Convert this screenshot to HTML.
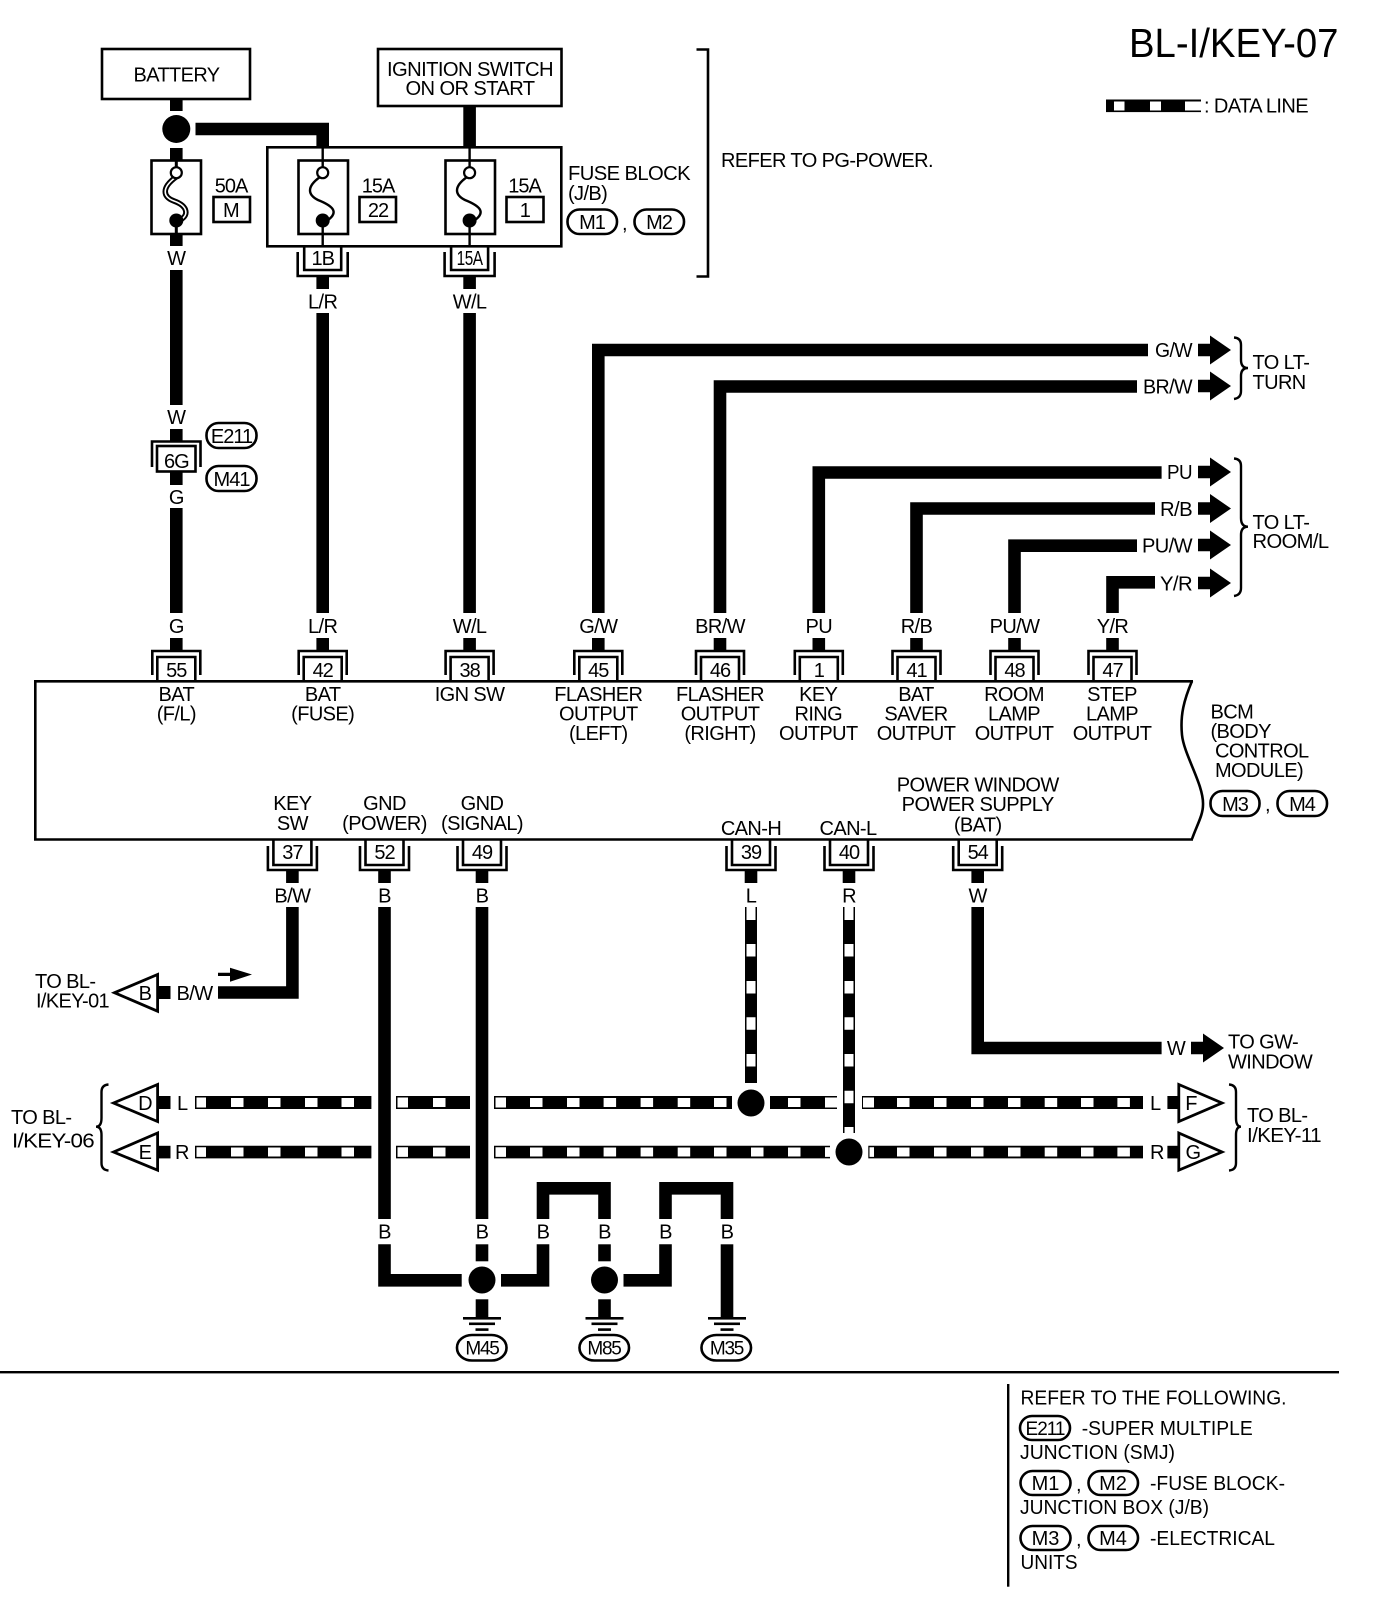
<!DOCTYPE html>
<html lang="en">
<head>
<meta charset="utf-8">
<title>BL-I/KEY-07</title>
<style>
html,body{margin:0;padding:0;background:#fff}
svg{display:block}
text{font-family:"Liberation Sans",Arial,sans-serif;font-size:20px;letter-spacing:-.6px;fill:#000}
.m{text-anchor:middle}
.n{letter-spacing:-1px}
.s{font-size:19px;letter-spacing:-1.2px}
.l{letter-spacing:0}
.t{fill:none;stroke:#000;stroke-width:2.6;stroke-linejoin:miter}
.w{fill:none;stroke:#000;stroke-width:12.6;stroke-linejoin:miter;stroke-miterlimit:10}
.f{fill:none;stroke:#000;stroke-width:2.4}
</style>
</head>
<body>
<svg xmlns="http://www.w3.org/2000/svg" width="1392" height="1606" viewBox="0 0 1392 1606">
<defs>
<g id="ct"><path class="t" d="M-24 675V651H24V675"/><path class="t" d="M-19 681V657H19V681"/><rect x="-6.3" y="638" width="12.6" height="12"/></g>
<g id="cb"><path class="t" d="M-24.5 846V870H24.5V846"/><path class="t" d="M-19 839V865H19V839"/><rect x="-6.3" y="870" width="12.6" height="13"/></g>
<g id="cf"><path class="t" d="M-25 252V276H25V252"/><path class="t" d="M-18.5 246V270H18.5V246"/><rect x="-6.3" y="276" width="12.6" height="13"/></g>
<g id="ar"><path d="M0-6.3H12V-14.5L33 0L12 14.5V6.3H0Z"/></g>
<g id="gr"><rect x="-19" y="1317" width="38" height="2.6"/><rect x="-13" y="1322.5" width="26" height="2.6"/><rect x="-6.5" y="1328.3" width="13" height="2.6"/></g>
</defs>

<!-- title / legend -->
<text x="1129" y="57" textLength="209.5" lengthAdjust="spacingAndGlyphs" style="font-size:41px;letter-spacing:0">BL-I/KEY-07</text>
<rect x="1106" y="99.5" width="95" height="12.6"/>
<path fill="#fff" d="M1114 101.5h10.5v9h-10.5zM1150 101.5h11v9h-11zM1185 101.5h16v9h-16z"/>
<text x="1204" y="112.5" textLength="104" lengthAdjust="spacingAndGlyphs">: DATA LINE</text>

<!-- top boxes -->
<rect class="t" x="102" y="49" width="148" height="50"/>
<text class="m" x="176.5" y="81.5" textLength="86" lengthAdjust="spacingAndGlyphs">BATTERY</text>
<rect class="t" x="378" y="49" width="183.5" height="57"/>
<text class="m" x="470" y="76" textLength="166" lengthAdjust="spacingAndGlyphs">IGNITION SWITCH</text>
<text class="m" x="470" y="95" textLength="129" lengthAdjust="spacingAndGlyphs">ON OR START</text>

<!-- battery feed -->
<rect x="170" y="99" width="12.6" height="12"/>
<circle cx="176.3" cy="129" r="14"/>
<rect x="170" y="148" width="12.6" height="12"/>
<polyline class="w" points="195.5,129 322.7,129 322.7,147"/>
<rect x="463.3" y="106" width="12.6" height="41"/>

<!-- fuse block -->
<rect class="t" x="267.3" y="147.3" width="294" height="99"/>
<rect class="t" x="151.5" y="160.5" width="49.5" height="73.5"/>
<rect class="t" x="298.5" y="160.5" width="49.5" height="73.5"/>
<rect class="t" x="445.5" y="160.5" width="49.5" height="73.5"/>
<!-- fuse 50A -->
<path d="M176 177C161 188 163 197 174 201C188 206 190 216 178 221" fill="none" stroke="#000" stroke-width="5.5"/>
<path d="M176 177C161 188 163 197 174 201C188 206 190 216 178 221" fill="none" stroke="#fff" stroke-width="1.6"/>
<circle cx="176.3" cy="172.7" r="5.5" fill="#fff" stroke="#000" stroke-width="2.2"/>
<circle cx="176.3" cy="220.5" r="7"/>
<rect x="174.8" y="160" width="3" height="7"/>
<rect x="174.8" y="226" width="3" height="9"/>
<rect x="170" y="234" width="12.6" height="12"/>
<!-- fuse 22 -->
<path class="f" d="M320 177C306 187 308 195 318 200C333 206 339 212 328 220"/>
<circle cx="322.7" cy="172.7" r="5.5" fill="#fff" stroke="#000" stroke-width="2.2"/>
<circle cx="322.7" cy="220.5" r="7"/>
<path class="f" d="M322.7 147V167M322.7 226V246"/>
<!-- fuse 1 -->
<path class="f" d="M467 177C453 187 455 195 465 200C480 206 486 212 475 220"/>
<circle cx="469.6" cy="172.7" r="5.5" fill="#fff" stroke="#000" stroke-width="2.2"/>
<circle cx="469.6" cy="220.5" r="7"/>
<path class="f" d="M469.6 147V167M469.6 226V246"/>

<text class="m n" x="231" y="192.5">50A</text>
<rect class="t" x="213.5" y="197" width="36.5" height="25"/>
<text class="m" x="231" y="217">M</text>
<text class="m n" x="378" y="192.5">15A</text>
<rect class="t" x="359.5" y="197" width="36.5" height="25"/>
<text class="m n" x="378" y="217">22</text>
<text class="m n" x="524.5" y="192.5">15A</text>
<rect class="t" x="506.5" y="197" width="37" height="25"/>
<text class="m" x="525" y="217">1</text>

<text x="568" y="180" textLength="122" lengthAdjust="spacingAndGlyphs">FUSE BLOCK</text>
<text x="568" y="200">(J/B)</text>
<rect class="t" x="567.5" y="209.5" width="49.5" height="24.5" rx="12" ry="12"/>
<text class="m n" x="592" y="229">M1</text>
<text x="622" y="230">,</text>
<rect class="t" x="634.5" y="209.5" width="49.5" height="24.5" rx="12" ry="12"/>
<text class="m n" x="659" y="229">M2</text>

<path class="t" d="M696.5 49.5H708V276.5H696.5"/>
<text x="721" y="167" textLength="212" lengthAdjust="spacingAndGlyphs">REFER TO PG-POWER.</text>

<use href="#cf" x="322.7"/>
<use href="#cf" x="469.6"/>
<text class="m n" x="322.7" y="265">1B</text>
<text class="m" x="469.6" y="265" textLength="26" lengthAdjust="spacingAndGlyphs">15A</text>
<text class="m" x="176.3" y="265">W</text>
<text class="m" x="322.7" y="308.5">L/R</text>
<text class="m" x="469.6" y="308.5">W/L</text>

<!-- column wires -->
<rect x="170" y="270" width="12.6" height="135"/>
<text class="m" x="176.3" y="424">W</text>
<rect x="170" y="429" width="12.6" height="12"/>
<path class="t" d="M152 467V441.5H200.5V467"/>
<rect class="t" x="157" y="446" width="38.5" height="25.5"/>
<text class="m n" x="176.3" y="468">6G</text>
<rect class="t" x="206.5" y="423" width="50" height="25" rx="12" ry="12"/>
<text class="m n" x="231.5" y="443">E211</text>
<rect class="t" x="206.5" y="466" width="50" height="25" rx="12" ry="12"/>
<text class="m n" x="231.5" y="486">M41</text>
<rect x="170" y="472" width="12.6" height="13"/>
<text class="m" x="176.3" y="504">G</text>
<rect x="170" y="508" width="12.6" height="105"/>

<rect x="316.4" y="313" width="12.6" height="300"/>
<rect x="463.3" y="313" width="12.6" height="300"/>

<polyline class="w" points="598.3,613 598.3,350 1148,350"/>
<polyline class="w" points="720,613 720,386.5 1137,386.5"/>
<polyline class="w" points="818.8,613 818.8,472.5 1161.6,472.5"/>
<polyline class="w" points="916.5,613 916.5,508.5 1155,508.5"/>
<polyline class="w" points="1014.5,613 1014.5,545.7 1137,545.7"/>
<polyline class="w" points="1112.5,613 1112.5,582.3 1155,582.3"/>

<!-- right labels & arrows -->
<text x="1155" y="357" textLength="37" lengthAdjust="spacingAndGlyphs">G/W</text>
<text x="1143" y="393.5" textLength="49" lengthAdjust="spacingAndGlyphs">BR/W</text>
<text x="1167" y="479" textLength="25" lengthAdjust="spacingAndGlyphs">PU</text>
<text x="1160" y="516" textLength="32" lengthAdjust="spacingAndGlyphs">R/B</text>
<text x="1142" y="552.5" textLength="50" lengthAdjust="spacingAndGlyphs">PU/W</text>
<text x="1160" y="590.5" textLength="32" lengthAdjust="spacingAndGlyphs">Y/R</text>
<use href="#ar" x="1198" y="350"/>
<use href="#ar" x="1198" y="386"/>
<use href="#ar" x="1198" y="472"/>
<use href="#ar" x="1198" y="508.5"/>
<use href="#ar" x="1198" y="545"/>
<use href="#ar" x="1198" y="583"/>
<path class="f" d="M1234 337.5Q1241 338 1241 345V360Q1241 368 1248 368Q1241 368 1241 376V391Q1241 398 1234 399"/>
<text x="1252.5" y="369">TO LT-</text>
<text x="1252.5" y="389">TURN</text>
<path class="f" d="M1234 458.5Q1241 459 1241 466V518Q1241 526.7 1248 526.7Q1241 526.7 1241 535V588Q1241 595 1234 596"/>
<text x="1252.5" y="529">TO LT-</text>
<text x="1252.5" y="548" textLength="76" lengthAdjust="spacingAndGlyphs">ROOM/L</text>

<!-- labels above BCM -->
<text class="m" x="176.3" y="633">G</text>
<text class="m" x="322.7" y="633">L/R</text>
<text class="m" x="469.6" y="633">W/L</text>
<text class="m" x="598.3" y="633">G/W</text>
<text class="m" x="720" y="633">BR/W</text>
<text class="m" x="818.8" y="633">PU</text>
<text class="m" x="916.5" y="633">R/B</text>
<text class="m" x="1014.5" y="633">PU/W</text>
<text class="m" x="1112.5" y="633">Y/R</text>

<use href="#ct" x="176.3"/><use href="#ct" x="322.7"/><use href="#ct" x="469.6"/><use href="#ct" x="598.3"/><use href="#ct" x="720"/><use href="#ct" x="818.8"/><use href="#ct" x="916.5"/><use href="#ct" x="1014.5"/><use href="#ct" x="1112.5"/>
<text class="m n" x="176.3" y="677">55</text>
<text class="m n" x="322.7" y="677">42</text>
<text class="m n" x="469.6" y="677">38</text>
<text class="m n" x="598.3" y="677">45</text>
<text class="m n" x="720" y="677">46</text>
<text class="m n" x="818.8" y="677">1</text>
<text class="m n" x="916.5" y="677">41</text>
<text class="m n" x="1014.5" y="677">48</text>
<text class="m n" x="1112.5" y="677">47</text>

<!-- BCM outline -->
<path class="t" d="M1193 681.3H35.3V839.5H1193"/>
<path class="t" d="M1192 681C1184 700 1180 715 1182 735C1184 755 1204 785 1203 805C1203 815 1197 825 1192 839"/>

<text class="m" x="176.3" y="701">BAT</text><text class="m" x="176.3" y="720.5">(F/L)</text>
<text class="m" x="322.7" y="701">BAT</text><text class="m" x="322.7" y="720.5">(FUSE)</text>
<text class="m" x="469.6" y="701">IGN SW</text>
<text class="m" x="598.3" y="701">FLASHER</text><text class="m" x="598.3" y="720.5">OUTPUT</text><text class="m" x="598.3" y="740">(LEFT)</text>
<text class="m" x="720" y="701">FLASHER</text><text class="m" x="720" y="720.5">OUTPUT</text><text class="m" x="720" y="740">(RIGHT)</text>
<text class="m" x="818.3" y="701">KEY</text><text class="m" x="818.3" y="720.5">RING</text><text class="m" x="818.3" y="740">OUTPUT</text>
<text class="m" x="916" y="701">BAT</text><text class="m" x="916" y="720.5">SAVER</text><text class="m" x="916" y="740">OUTPUT</text>
<text class="m" x="1014" y="701">ROOM</text><text class="m" x="1014" y="720.5">LAMP</text><text class="m" x="1014" y="740">OUTPUT</text>
<text class="m" x="1112" y="701">STEP</text><text class="m" x="1112" y="720.5">LAMP</text><text class="m" x="1112" y="740">OUTPUT</text>

<text class="m" x="292.4" y="810">KEY</text><text class="m" x="292.4" y="830">SW</text>
<text class="m" x="384.5" y="810">GND</text><text class="m" x="384.5" y="830">(POWER)</text>
<text class="m" x="482" y="810">GND</text><text class="m" x="482" y="830">(SIGNAL)</text>
<text class="m" x="751" y="835">CAN-H</text>
<text class="m" x="848" y="835">CAN-L</text>
<text class="m" x="977.7" y="791.5" textLength="162" lengthAdjust="spacingAndGlyphs">POWER WINDOW</text>
<text class="m" x="977.7" y="811" textLength="152" lengthAdjust="spacingAndGlyphs">POWER SUPPLY</text>
<text class="m" x="977.7" y="831.5">(BAT)</text>

<text x="1210.5" y="718.5">BCM</text>
<text x="1210.5" y="738">(BODY</text>
<text x="1215" y="757.5">CONTROL</text>
<text x="1215" y="777">MODULE)</text>
<rect class="t" x="1210.5" y="791" width="49" height="25" rx="12" ry="12"/>
<text class="m n" x="1235" y="811">M3</text>
<text x="1265" y="811">,</text>
<rect class="t" x="1277.5" y="791" width="49.5" height="25" rx="12" ry="12"/>
<text class="m n" x="1302" y="811">M4</text>

<!-- bottom connectors -->
<use href="#cb" x="292.4"/><use href="#cb" x="384.5"/><use href="#cb" x="482"/><use href="#cb" x="751"/><use href="#cb" x="849"/><use href="#cb" x="977.7"/>
<text class="m n" x="292.4" y="859">37</text>
<text class="m n" x="384.5" y="859">52</text>
<text class="m n" x="482" y="859">49</text>
<text class="m n" x="751" y="859">39</text>
<text class="m n" x="849" y="859">40</text>
<text class="m n" x="977.7" y="859">54</text>
<text class="m" x="292.4" y="902.5">B/W</text>
<text class="m" x="384.5" y="902.5">B</text>
<text class="m" x="482" y="902.5">B</text>
<text class="m" x="751" y="902.5">L</text>
<text class="m" x="849" y="902.5">R</text>
<text class="m" x="977.7" y="902.5">W</text>

<!-- key sw -->
<polyline class="w" points="292.4,907 292.4,992.5 218,992.5"/>
<text x="176.5" y="1000" textLength="36" lengthAdjust="spacingAndGlyphs">B/W</text>
<path d="M218 972.7H230V967.7L252 974.5L230 981.7V976H218Z"/>
<rect x="158.5" y="986" width="12" height="13"/>
<polygon class="t" points="114.5,992.7 157.6,974.5 157.6,1011.2" style="stroke-width:2.8"/>
<text class="m" x="145" y="1000">B</text>
<text x="35" y="988">TO BL-</text>
<text x="36" y="1007.5" textLength="73" lengthAdjust="spacingAndGlyphs">I/KEY-01</text>

<!-- B wires -->
<rect x="378.2" y="907" width="12.6" height="312"/>
<rect x="475.7" y="907" width="12.6" height="312"/>

<!-- data lines horizontal -->
<path d="M195 1096h176.4v13h-176.4zM396 1096h74v13h-74zM494 1096h238v13h-238zM770 1096h67v13h-67zM862 1096h281v13h-281z"/>
<path d="M195 1145.8h176.4v12.6h-176.4zM396 1145.8h74v12.6h-74zM494 1145.8h336v12.6h-336zM868.3 1145.8h274.7v12.6h-274.7z"/>
<path fill="#fff" d="M196.5 1097.5h9.5v10h-9.5zM397.5 1097.5h10.5v10h-10.5zM495.5 1097.5h10.5v10h-10.5zM825 1097.5h12v10h-12zM863 1097.5h11v10h-11zM231 1098h12.5v9h-12.5zM268 1098h12.5v9h-12.5zM305 1098h12.5v9h-12.5zM341.5 1098h12.5v9h-12.5zM433 1098h12.5v9h-12.5zM530 1098h12.5v9h-12.5zM567 1098h12.5v9h-12.5zM603.6 1098h12.5v9h-12.5zM640.6 1098h12.5v9h-12.5zM677.7 1098h12.5v9h-12.5zM714 1098h12.5v9h-12.5zM788 1098h12.5v9h-12.5zM897 1098h12.5v9h-12.5zM934 1098h12.5v9h-12.5zM971 1098h12.5v9h-12.5zM1008 1098h12.5v9h-12.5zM1044.7 1098h12.5v9h-12.5zM1081 1098h12.5v9h-12.5zM1117.4 1098h12.5v9h-12.5z"/>
<path fill="#fff" d="M196.5 1147.3h9.5v9.6h-9.5zM397.5 1147.3h10.5v9.6h-10.5zM495.5 1147.3h10.5v9.6h-10.5zM825 1147.3h5v9.6h-5zM869.5 1147.3h4.5v9.6h-4.5zM231 1147.5h12.5v9h-12.5zM268 1147.5h12.5v9h-12.5zM305 1147.5h12.5v9h-12.5zM341.5 1147.5h12.5v9h-12.5zM433 1147.5h12.5v9h-12.5zM530 1147.5h12.5v9h-12.5zM567 1147.5h12.5v9h-12.5zM603.6 1147.5h12.5v9h-12.5zM640.6 1147.5h12.5v9h-12.5zM677.7 1147.5h12.5v9h-12.5zM714 1147.5h12.5v9h-12.5zM751 1147.5h12.5v9h-12.5zM788 1147.5h12.5v9h-12.5zM897 1147.5h12.5v9h-12.5zM934 1147.5h12.5v9h-12.5zM971 1147.5h12.5v9h-12.5zM1008 1147.5h12.5v9h-12.5zM1044.7 1147.5h12.5v9h-12.5zM1081 1147.5h12.5v9h-12.5zM1117.4 1147.5h12.5v9h-12.5z"/>

<!-- data lines vertical -->
<path d="M745 907h12v176h-12zM843 907h12v226h-12z"/>
<path fill="#fff" d="M746.5 906.5h9v13.5h-9zM746.5 944h9v12.5h-9zM746.5 981h9v12.5h-9zM746.5 1017.3h9v12.5h-9zM746.5 1054h9v12.5h-9zM844.5 906.5h9v13.5h-9zM844.5 944h9v12.5h-9zM844.5 981h9v12.5h-9zM844.5 1017.3h9v12.5h-9zM844.5 1054h9v12.5h-9zM844.5 1090.7h9v12.5h-9zM844.5 1127h9v6.5h-9z"/>
<circle cx="751" cy="1103" r="13.5"/>
<circle cx="849" cy="1152" r="13.5"/>

<!-- left triangles -->
<rect x="158.5" y="1096" width="12" height="13"/>
<rect x="158.5" y="1145.8" width="12" height="12.6"/>
<polygon class="t" points="113.5,1103 157.6,1084.5 157.6,1121.5" style="stroke-width:2.8"/>
<polygon class="t" points="113.5,1152 157.6,1133 157.6,1170.2" style="stroke-width:2.8"/>
<text class="m" x="145" y="1110">D</text>
<text class="m" x="145" y="1159">E</text>
<text x="177" y="1110">L</text>
<text x="175" y="1159">R</text>
<path class="f" d="M108.5 1084.5Q101.5 1085 101.5 1092V1118Q101.5 1126.7 96 1126.7Q101.5 1126.7 101.5 1135V1163Q101.5 1170 108.5 1170.5"/>
<text x="11" y="1124">TO BL-</text>
<text x="12" y="1147.5" textLength="82" lengthAdjust="spacingAndGlyphs">I/KEY-06</text>

<!-- right side W + triangles -->
<polyline class="w" points="977.7,907 977.7,1048 1161.6,1048"/>
<text class="m" x="1176" y="1055">W</text>
<use href="#ar" x="1191" y="1048"/>
<text x="1228" y="1048.5">TO GW-</text>
<text x="1228" y="1068.5">WINDOW</text>
<text x="1150" y="1110">L</text>
<text x="1150" y="1159">R</text>
<rect x="1167.4" y="1096" width="11.5" height="13"/>
<rect x="1167.4" y="1145.8" width="11.5" height="12.6"/>
<polygon class="t" points="1178.8,1084.5 1222,1103 1178.8,1121.5" style="stroke-width:2.8"/>
<polygon class="t" points="1178.8,1133 1222,1152 1178.8,1170.2" style="stroke-width:2.8"/>
<text class="m" x="1191" y="1110">F</text>
<text class="m" x="1193" y="1159">G</text>
<path class="f" d="M1229 1084.5Q1236 1085 1236 1092V1118Q1236 1126.7 1241 1126.7Q1236 1126.7 1236 1135V1163Q1236 1170 1229 1170.5"/>
<text x="1247" y="1122">TO BL-</text>
<text x="1247" y="1142" textLength="74" lengthAdjust="spacingAndGlyphs">I/KEY-11</text>

<!-- ground section -->
<polyline class="w" points="543,1219 543,1188.3 604.5,1188.3 604.5,1219" />
<polyline class="w" points="665.5,1219 665.5,1188.3 727,1188.3 727,1219" />
<text class="m" x="384.5" y="1238.5">B</text>
<text class="m" x="482" y="1238.5">B</text>
<text class="m" x="543" y="1238.5">B</text>
<text class="m" x="604.5" y="1238.5">B</text>
<text class="m" x="665.5" y="1238.5">B</text>
<text class="m" x="727" y="1238.5">B</text>
<polyline class="w" points="384.5,1244.3 384.5,1280.3 461.7,1280.3"/>
<polyline class="w" points="501,1280.3 543,1280.3 543,1244.3"/>
<polyline class="w" points="623.5,1280.3 665.5,1280.3 665.5,1244.3"/>
<rect x="475.7" y="1244.3" width="12.6" height="17"/>
<rect x="598.2" y="1244.3" width="12.6" height="17"/>
<circle cx="482" cy="1280" r="13.5"/>
<circle cx="604.5" cy="1280" r="13.5"/>
<rect x="475.7" y="1299.3" width="12.6" height="18"/>
<rect x="598.2" y="1299.3" width="12.6" height="18"/>
<rect x="720.7" y="1244.3" width="12.6" height="73"/>
<use href="#gr" x="482"/><use href="#gr" x="604.5"/><use href="#gr" x="727"/>
<rect class="t" x="457" y="1335" width="49.5" height="25.5" rx="15" ry="12.5"/>
<rect class="t" x="579.5" y="1335" width="49.5" height="25.5" rx="15" ry="12.5"/>
<rect class="t" x="701.5" y="1335" width="49.5" height="25.5" rx="15" ry="12.5"/>
<text class="m s" x="482" y="1354.5">M45</text>
<text class="m s" x="604" y="1354.5">M85</text>
<text class="m s" x="726.5" y="1354.5">M35</text>

<!-- footer -->
<rect x="0" y="1371" width="1339" height="2.4"/>
<rect x="1007" y="1384" width="2.4" height="202.7"/>
<text class="l" x="1020.5" y="1404.5" textLength="266" lengthAdjust="spacingAndGlyphs">REFER TO THE FOLLOWING.</text>
<rect class="t" x="1020" y="1416" width="50" height="24" rx="12" ry="12"/>
<text class="m n" x="1045" y="1435" style="font-size:19px">E211</text>
<text class="l" x="1081.7" y="1435" textLength="171" lengthAdjust="spacingAndGlyphs">-SUPER MULTIPLE</text>
<text class="l" x="1020" y="1459" textLength="155" lengthAdjust="spacingAndGlyphs">JUNCTION (SMJ)</text>
<rect class="t" x="1020.5" y="1471" width="50" height="24" rx="12" ry="12"/>
<text class="m l" x="1045.5" y="1490">M1</text>
<text x="1076" y="1491">,</text>
<rect class="t" x="1088.5" y="1471" width="49.5" height="24" rx="12" ry="12"/>
<text class="m l" x="1113" y="1490">M2</text>
<text class="l" x="1150" y="1490" textLength="135" lengthAdjust="spacingAndGlyphs">-FUSE BLOCK-</text>
<text class="l" x="1020" y="1514" textLength="189" lengthAdjust="spacingAndGlyphs">JUNCTION BOX (J/B)</text>
<rect class="t" x="1020.5" y="1526" width="50" height="24" rx="12" ry="12"/>
<text class="m l" x="1045.5" y="1545">M3</text>
<text x="1076" y="1546">,</text>
<rect class="t" x="1088.5" y="1526" width="49.5" height="24" rx="12" ry="12"/>
<text class="m l" x="1113" y="1545">M4</text>
<text class="l" x="1150" y="1545" textLength="125" lengthAdjust="spacingAndGlyphs">-ELECTRICAL</text>
<text class="l" x="1020.5" y="1569" textLength="57" lengthAdjust="spacingAndGlyphs">UNITS</text>
</svg>
</body>
</html>
